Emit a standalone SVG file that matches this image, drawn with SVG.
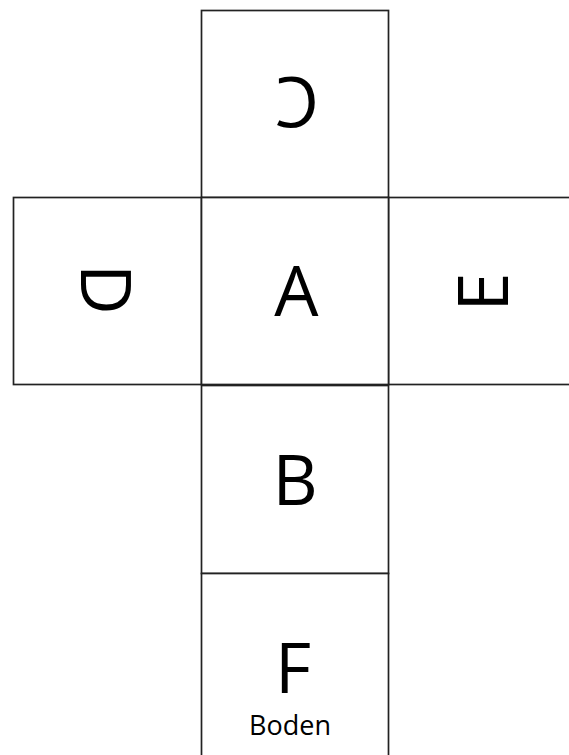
<svg xmlns="http://www.w3.org/2000/svg" width="569" height="755" viewBox="0 0 569 755">
<style>
.face{fill:#ffffff;stroke:#222222;stroke-width:1.7}
.big{font-family:"Open Sans","Liberation Sans",sans-serif;font-size:70px;fill:#000;text-anchor:middle}
.small{font-family:"Open Sans","Liberation Sans",sans-serif;font-size:27px;fill:#000;text-anchor:middle}
</style>
<rect width="569" height="755" fill="#ffffff"/>
<g id="face-C">
<rect class="face" x="201.5" y="10.5" width="187" height="187"/>
<text class="big" x="297" y="127" transform="rotate(180 297 102)">C</text>
</g>
<g id="face-D">
<rect class="face" x="13.5" y="197.5" width="188" height="187"/>
<text class="big" x="106" y="314.5" transform="rotate(90 106 289.5)">D</text>
</g>
<g id="face-E">
<rect class="face" x="388.5" y="197.5" width="190" height="187"/>
<text class="big" x="483" y="317" transform="rotate(-90 483 292)">E</text>
</g>
<g id="face-A">
<rect class="face" x="201.5" y="197.5" width="187" height="187"/>
<text class="big" x="296.5" y="316">A</text>
</g>
<g id="face-B">
<rect class="face" x="201.5" y="385.5" width="187" height="188"/>
<text class="big" x="295" y="505">B</text>
</g>
<g id="face-F">
<rect class="face" x="201.5" y="573.5" width="187" height="190"/>
<text class="big" x="293" y="693">F</text>
<text class="small" x="290" y="735">Boden</text>
</g>
<g id="connectors"></g>
</svg>
